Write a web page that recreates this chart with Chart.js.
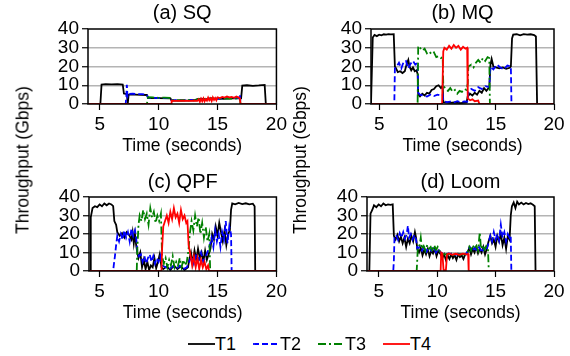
<!DOCTYPE html>
<html>
<head>
<meta charset="utf-8">
<script src="https://cdn.jsdelivr.net/npm/chart.js@4.4.1/dist/chart.umd.min.js"></script>
<style>
  body { margin: 0; background: #fff; width: 570px; height: 356px; position: relative; overflow: hidden;
         font-family: 'Liberation Sans', Arial, sans-serif; color: #000; }
  canvas { position: absolute; }
  .ylab { position: absolute; font-size: 17.5px; white-space: nowrap; transform: translate(-50%, -50%) rotate(-90deg); }
  .leg { position: absolute; top: 334px; font-size: 18px; line-height: 20px; }
  .leg svg { position: absolute; top: 0; }
</style>
</head>
<body>
<canvas id="pa" width="260" height="160" style="left:30px;top:0px"></canvas>
<canvas id="pb" width="262" height="160" style="left:308px;top:0px"></canvas>
<canvas id="pc" width="260" height="160" style="left:30px;top:170px"></canvas>
<canvas id="pd" width="262" height="160" style="left:308px;top:170px"></canvas>
<div class="ylab" style="left:23px;top:160px">Throughput (Gbps)</div>
<div class="ylab" style="left:300px;top:160px">Throughput (Gbps)</div>
<div id="legend"></div>
<script>
const FONT = "'Liberation Sans', Arial, sans-serif";

const seriesNames = ['T1', 'T2', 'T3', 'T4'];
const seriesColors = ['#000000', '#0000ff', '#008000', '#ff0000'];
const seriesDash = [[], [6, 3], [8, 3, 2, 3], []];
const panelTitles = ['(a) SQ', '(b) MQ', '(c) QPF', '(d) Loom'];
const panelXMin = [4, 4.3, 4.1, 4];
const xTicks = [5, 10, 15, 20];
const yTicks = [0, 10, 20, 30, 40];

// (a) SQ  [time, Gbps]
const sqT1 = [[4,0],[5.05,0],[5.15,10.4],[5.5,10.6],[6,10.5],[6.5,10.6],[6.95,10.4],[7.05,5.6],[7.3,5.2],[7.38,0.3],[7.45,5],[8,5],[8.5,4.9],[9,4.8],[9.1,3.2],[10,3.1],[11,3],[11.1,1.8],[12,1.8],[13,1.9],[13.3,2.6],[13.6,2.9],[14,2.5],[14.4,3.1],[14.8,2.7],[15,3],[15.5,2.8],[16,3],[16.5,3.2],[17,3],[17.1,9.8],[17.5,10],[18,9.7],[18.5,9.9],[19,10.2],[19.1,0],[20,0]];
const sqT2 = [[4,0],[7.2,0],[7.25,4],[7.3,10.2],[7.35,4],[7.45,5.4],[7.8,5.5],[8.2,5.2],[8.6,5.3],[9,5],[9.1,3.3],[10,3.2],[11,3.1],[11.1,2],[13.3,2.2],[14,2.6],[15,2.8],[16,3.1],[16.8,3.3],[16.9,5],[16.95,0],[20,0]];
const sqT3 = [[4,0],[9.0,0],[9.1,3.6],[9.5,3.5],[10,3.3],[10.5,3.4],[11,3.2],[11.1,2],[13.2,2],[13.3,2.6],[13.8,2.8],[14.2,2.4],[14.6,3],[15,2.6],[15.5,3],[16,2.8],[16.9,3],[16.95,0],[20,0]];
const sqT4 = [[4,0],[11.05,0],[11.1,1.8],[11.5,1.7],[12,1.8],[12.5,1.7],[13,1.8],[13.3,1.7],[13.4,2.5],[13.5,1.2],[13.6,2.8],[13.7,1.5],[13.8,3],[13.9,1.4],[14,2.6],[14.1,1.8],[14.2,3.4],[14.3,2],[14.4,3],[14.5,1.6],[14.6,3.5],[14.7,2.2],[14.8,3.2],[14.9,2],[15,3.6],[15.2,3.2],[15.4,3.8],[15.6,3.4],[15.8,4],[16,3.5],[16.2,3.8],[16.4,3.3],[16.6,4],[16.8,3.4],[16.9,3],[16.95,0],[20,0]];

// (b) MQ
const mqT1 = [[4.3,0],[4.35,0],[4.45,35.5],[4.6,36.8],[4.8,36.2],[5.0,37],[5.2,36.6],[5.4,37.2],[5.6,37],[5.8,37.3],[6.0,37.1],[6.25,37.2],[6.35,20],[6.45,19],[6.6,17],[6.8,17.5],[7.0,16.5],[7.2,17.5],[7.35,21],[7.5,23.5],[7.6,20],[7.75,18],[7.9,19.5],[8.05,17.5],[8.2,18],[8.3,16],[8.35,5],[8.5,4],[8.7,5.5],[8.9,4.5],[9.1,6],[9.3,5.5],[9.5,7.5],[9.7,8],[9.9,9.5],[10.1,10],[10.3,8.5],[10.45,9.8],[10.5,1],[11,0.6],[11.5,0.8],[12,0.5],[12.5,0.8],[12.6,4],[12.8,5.5],[13,4.5],[13.2,6],[13.4,5],[13.6,7],[13.8,6],[14.0,8.5],[14.2,7],[14.45,9],[14.55,21],[14.65,24],[14.8,20],[15,19.5],[15.3,19],[15.6,19.5],[15.9,18.8],[16.2,19.3],[16.3,20],[16.4,35],[16.5,37],[16.8,37.2],[17.1,36.6],[17.4,37.3],[17.7,37],[18,37.2],[18.3,36.8],[18.45,36],[18.55,0],[20,0]];
const mqT2 = [[4.3,0],[6.3,0],[6.35,19],[6.5,20],[6.7,22],[6.9,19],[7.1,22.5],[7.3,23],[7.5,19],[7.7,21.5],[7.9,23],[8.1,21],[8.3,22],[8.35,6],[8.5,5],[8.8,4.5],[9.1,4],[9.4,5],[9.7,4.2],[10,5],[10.3,4.5],[10.45,5],[10.5,1.5],[10.8,1],[11.1,1.3],[11.4,0.8],[11.7,1.5],[12,1],[12.3,1.4],[12.55,1.2],[12.65,6],[12.9,8],[13.2,7],[13.5,9],[13.8,8],[14.1,9.5],[14.45,9],[14.55,20],[14.8,18.5],[15.1,21],[15.4,19.5],[15.7,18.5],[16,20.5],[16.3,20],[16.35,0],[20,0]];
const mqT3 = [[4.3,0],[8.3,0],[8.35,31],[8.5,30],[8.7,28.5],[8.9,29.5],[9.1,27],[9.3,28],[9.5,26.5],[9.7,27.5],[9.9,25],[10.1,25.5],[10.3,24.5],[10.45,25],[10.5,10],[10.7,8],[10.9,7],[11.1,8.5],[11.3,6.5],[11.5,7.5],[11.7,5.5],[11.9,7],[12.1,6.5],[12.3,8],[12.5,7.5],[12.6,11],[12.65,20],[12.9,21],[13.1,19.5],[13.3,22],[13.5,23.5],[13.7,22],[13.9,24.5],[14.1,23],[14.3,25],[14.45,24.5],[14.5,0],[20,0]];
const mqT4 = [[4.3,0],[10.4,0],[10.5,28],[10.6,30],[10.8,29],[11,31],[11.2,29.5],[11.4,31.5],[11.6,30],[11.8,31],[12,29],[12.2,30.5],[12.4,29.5],[12.55,30],[12.6,3],[12.8,2],[13,2.5],[13.2,1.5],[13.5,1.8],[13.6,0],[20,0]];

// (c) QPF
const qpfT1 = [[4.1,0],[4.2,0],[4.25,29],[4.4,34],[4.6,35],[4.8,34.5],[5.0,36],[5.2,35],[5.4,36.5],[5.6,35.5],[5.8,36.5],[6.0,36],[6.15,35],[6.25,27],[6.4,25],[6.5,21],[6.7,19],[6.9,20.5],[7.1,18],[7.3,21],[7.5,19.5],[7.7,17],[7.8,21],[7.9,15],[8.0,20],[8.1,14],[8.2,10],[8.3,7],[8.45,10],[8.6,2],[8.75,6],[8.9,1],[9.05,5],[9.2,0.5],[9.35,3],[9.5,2],[9.65,7],[9.8,1.5],[9.95,5],[10.1,9],[10.25,2],[10.4,1],[10.7,2.5],[11,0.5],[11.3,3],[11.6,1],[11.9,2.5],[12.2,0.5],[12.5,2],[12.6,6],[12.75,10],[12.9,4],[13.05,11],[13.2,6],[13.35,12],[13.5,7],[13.65,10],[13.8,5],[13.95,11],[14.1,6],[14.25,9],[14.4,12],[14.55,20],[14.7,17],[14.85,24],[15.0,19],[15.15,26],[15.3,21],[15.45,16],[15.6,22],[15.75,14],[15.9,20],[16.05,22],[16.15,33],[16.25,36.5],[16.5,36],[16.8,36.8],[17.1,36.2],[17.4,36.6],[17.7,36],[18.0,36.4],[18.15,35],[18.2,0],[20,0]];
const qpfT2 = [[4.1,0],[6.15,0],[6.2,3],[6.3,8],[6.4,14],[6.5,19],[6.65,16],[6.8,20],[6.95,17],[7.1,22],[7.25,18],[7.4,21],[7.55,16],[7.7,23],[7.85,19],[8.0,22],[8.1,18],[8.2,11],[8.35,8],[8.5,9],[8.65,5],[8.8,8],[8.95,4],[9.1,7],[9.25,9],[9.4,5],[9.55,8],[9.7,4],[9.85,7],[10.0,5],[10.15,8],[10.3,3],[10.6,2],[10.9,1],[11.2,2.5],[11.5,1.2],[11.8,2.8],[12.1,1],[12.4,2],[12.6,5],[12.8,8],[13.0,4],[13.2,9],[13.4,6],[13.6,10],[13.8,5],[14.0,8],[14.2,11],[14.35,14],[14.5,18],[14.65,13],[14.8,22],[14.95,16],[15.1,20],[15.25,13],[15.4,21],[15.55,17],[15.7,27],[15.85,15],[16.0,24],[16.15,20],[16.2,0],[20,0]];
const qpfT3 = [[4.1,0],[8.15,0],[8.2,12],[8.3,25],[8.4,30],[8.55,27],[8.7,33],[8.85,28],[9.0,31],[9.15,25],[9.3,34],[9.45,29],[9.6,32],[9.75,26],[9.9,30],[10.05,27],[10.2,31],[10.3,8],[10.45,4],[10.6,7],[10.75,2],[10.9,6],[11.05,3],[11.2,8],[11.35,2],[11.5,5],[11.65,3],[11.8,7],[11.95,2],[12.1,6],[12.25,3],[12.4,5],[12.55,12],[12.65,20],[12.8,27],[12.95,22],[13.1,30],[13.25,24],[13.4,29],[13.55,20],[13.7,26],[13.85,18],[14.0,24],[14.15,16],[14.3,20],[14.38,0],[20,0]];
const qpfT4 = [[4.1,0],[10.25,0],[10.3,12],[10.4,24],[10.55,27],[10.7,30],[10.85,26],[11.0,32],[11.15,28],[11.3,34],[11.45,29],[11.6,31],[11.75,26],[11.9,33],[12.05,28],[12.2,30],[12.35,26],[12.45,27],[12.55,14],[12.7,9],[12.85,3],[13.0,8],[13.15,2],[13.3,7],[13.45,1],[13.6,6],[13.75,2],[13.9,5],[14.05,1],[14.2,3],[14.28,0],[20,0]];

// (d) Loom
const loomT1 = [[4,0],[4.2,0],[4.3,31],[4.45,33],[4.6,35.5],[4.8,34.5],[5.0,36],[5.2,35],[5.4,36.5],[5.6,35.5],[5.8,36],[6.0,35.8],[6.2,36],[6.3,19],[6.45,17],[6.6,19.5],[6.75,16],[6.9,18.5],[7.05,15],[7.2,18],[7.35,13],[7.5,17.5],[7.65,15],[7.8,19],[7.95,16],[8.1,21],[8.2,18],[8.3,12],[8.45,10],[8.6,12.5],[8.75,8.5],[8.9,11.5],[9.05,9],[9.2,12],[9.35,8],[9.5,11],[9.65,9.5],[9.8,12],[9.95,8],[10.1,11],[10.3,9],[10.45,7],[10.6,9],[10.75,6],[10.9,8.5],[11.05,6.5],[11.2,9],[11.35,7],[11.5,8.5],[11.65,6],[11.8,9],[11.95,7.5],[12.1,8.5],[12.25,6.5],[12.4,9],[12.6,10],[12.75,12.5],[12.9,9],[13.05,12],[13.2,10],[13.35,13],[13.5,9.5],[13.65,12],[13.8,10],[13.95,13],[14.1,9],[14.25,12],[14.4,16],[14.55,19],[14.7,15],[14.85,17],[15.0,13],[15.15,19],[15.3,16],[15.45,20],[15.6,14],[15.75,18],[15.9,12],[16.05,19],[16.2,17],[16.3,30],[16.4,35],[16.55,37],[16.7,34],[16.85,37.5],[17.0,36],[17.2,37],[17.4,36],[17.6,36.8],[17.8,36.2],[18.0,36.6],[18.2,35.8],[18.35,35],[18.42,0],[20,0]];
const loomT2 = [[4,0],[6.25,0],[6.3,6],[6.35,18],[6.5,19.5],[6.65,17],[6.8,20.5],[6.95,18],[7.1,21],[7.25,17.5],[7.4,20],[7.5,24.5],[7.6,18],[7.75,20],[7.9,17],[8.05,19.5],[8.2,17],[8.3,12],[8.5,13],[8.7,11],[8.9,13.5],[9.1,10.5],[9.3,12.5],[9.5,11],[9.7,13],[9.9,10],[10.1,12],[10.3,10],[10.6,9],[11,9.5],[11.5,8.8],[12,9.2],[12.5,9],[12.6,11],[12.8,13],[13.0,10.5],[13.2,12.5],[13.4,11],[13.6,13],[13.8,10],[14.0,12.5],[14.2,11],[14.4,15],[14.55,19],[14.7,16],[14.85,21],[15.0,17],[15.15,20],[15.3,16.5],[15.45,25],[15.6,18],[15.75,21],[15.9,16],[16.05,20],[16.2,18],[16.3,19],[16.35,0],[20,0]];
const loomT3 = [[4,0],[8.25,0],[8.3,6],[8.35,13],[8.5,14],[8.6,18],[8.7,12],[8.85,13.5],[9.0,11],[9.15,14],[9.3,12],[9.45,13],[9.6,10.5],[9.75,14],[9.9,11.5],[10.05,13],[10.2,11],[10.3,9.5],[10.6,9],[11,9.2],[11.5,8.7],[12,9.1],[12.5,9],[12.6,10],[12.75,13],[12.9,11],[13.05,14],[13.2,12],[13.35,13.5],[13.5,11],[13.65,21],[13.75,12],[13.9,14],[14.05,11.5],[14.2,13.5],[14.35,12],[14.42,0],[20,0]];
const loomT4 = [[4,0],[10.3,0],[10.35,10],[10.45,9.5],[10.55,0.5],[10.75,0.5],[10.85,9],[11.0,9.5],[11.3,8.8],[11.6,9.3],[11.9,8.7],[12.2,9.4],[12.5,9],[12.65,9.2],[12.7,0],[20,0]];

const panelSeries = [
  [sqT1, sqT2, sqT3, sqT4],
  [mqT1, mqT2, mqT3, mqT4],
  [qpfT1, qpfT2, qpfT3, qpfT4],
  [loomT1, loomT2, loomT3, loomT4]
];

// layout of each panel inside its canvas
const panelLayout = [
  { id: 'pa', yWidth: 58, xHeight: 53, pad: { top: 1, right: 13, bottom: 3, left: 0 }, titleGap: 4 },
  { id: 'pb', yWidth: 63, xHeight: 53, pad: { top: 1, right: 16, bottom: 3, left: 0 }, titleGap: 4 },
  { id: 'pc', yWidth: 59, xHeight: 53, pad: { top: 0, right: 13, bottom: 6, left: 0 }, titleGap: 3 },
  { id: 'pd', yWidth: 59, xHeight: 53, pad: { top: 0, right: 16, bottom: 6, left: 0 }, titleGap: 3 }
];

// black frame around the plot area
const frame = {
  id: 'frame',
  afterDatasetsDraw(chart) {
    const { ctx, chartArea: a } = chart;
    ctx.save();
    ctx.strokeStyle = '#000';
    ctx.lineWidth = 1.5;
    ctx.strokeRect(a.left, a.top, a.right - a.left, a.bottom - a.top);
    ctx.restore();
  }
};

panelLayout.forEach((p, i) => {
  const datasets = panelSeries[i].map((pts, k) => ({
    label: seriesNames[k],
    data: pts.map(([x, y]) => ({ x, y })),
    borderColor: seriesColors[k],
    borderDash: seriesDash[k],
    borderWidth: 1.8,
    pointRadius: 0,
    tension: 0,
    order: 4 - k
  }));

  new Chart(document.getElementById(p.id), {
    type: 'line',
    data: { datasets },
    plugins: [frame],
    options: {
      responsive: false,
      animation: false,
      layout: { padding: p.pad },
      plugins: {
        legend: { display: false },
        tooltip: { enabled: false },
        title: {
          display: true,
          fullSize: false,
          text: panelTitles[i],
          color: '#000',
          font: { family: FONT, size: 20, weight: 'normal' },
          padding: { top: 0, bottom: p.titleGap }
        }
      },
      scales: {
        x: {
          type: 'linear',
          min: panelXMin[i],
          max: 20,
          afterBuildTicks: s => { s.ticks = xTicks.map(v => ({ value: v })); },
          afterFit: s => { s.height = p.xHeight; },
          grid: { drawOnChartArea: false, tickLength: 6, tickColor: '#000', tickWidth: 1.2 },
          border: { display: false },
          ticks: { color: '#000', padding: 3, maxRotation: 0, autoSkip: false, font: { family: FONT, size: 19 } },
          title: { display: true, text: 'Time (seconds)', color: '#000', padding: 0, font: { family: FONT, size: 17.5 } }
        },
        y: {
          min: 0,
          max: 40,
          afterBuildTicks: s => { s.ticks = yTicks.map(v => ({ value: v })); },
          afterFit: s => { s.width = p.yWidth; },
          grid: {
            color: c => (c.tick && (c.tick.value === 0 || c.tick.value === 40)) ? 'rgba(0,0,0,0)' : '#b4b4b4',
            lineWidth: 1.5,
            tickLength: 6,
            tickColor: '#000',
            tickWidth: 1.2
          },
          border: { display: false },
          ticks: { color: '#000', padding: 3, autoSkip: false, font: { family: FONT, size: 19 } }
        }
      }
    }
  });
});

// shared legend under the panels
const legendX = [188, 253, 318, 383];
const legend = document.getElementById('legend');
seriesNames.forEach((name, k) => {
  const el = document.createElement('div');
  el.className = 'leg';
  el.style.left = legendX[k] + 'px';
  el.innerHTML =
    '<svg width="28" height="20" style="left:0"><line x1="0" y1="10" x2="27" y2="10" stroke="' + seriesColors[k] +
    '" stroke-width="1.8" stroke-dasharray="' + (seriesDash[k].join(',') || 'none') + '"/></svg>' +
    '<span style="position:absolute;left:27px;top:0">' + name + '</span>';
  legend.appendChild(el);
});
</script>
</body>
</html>
